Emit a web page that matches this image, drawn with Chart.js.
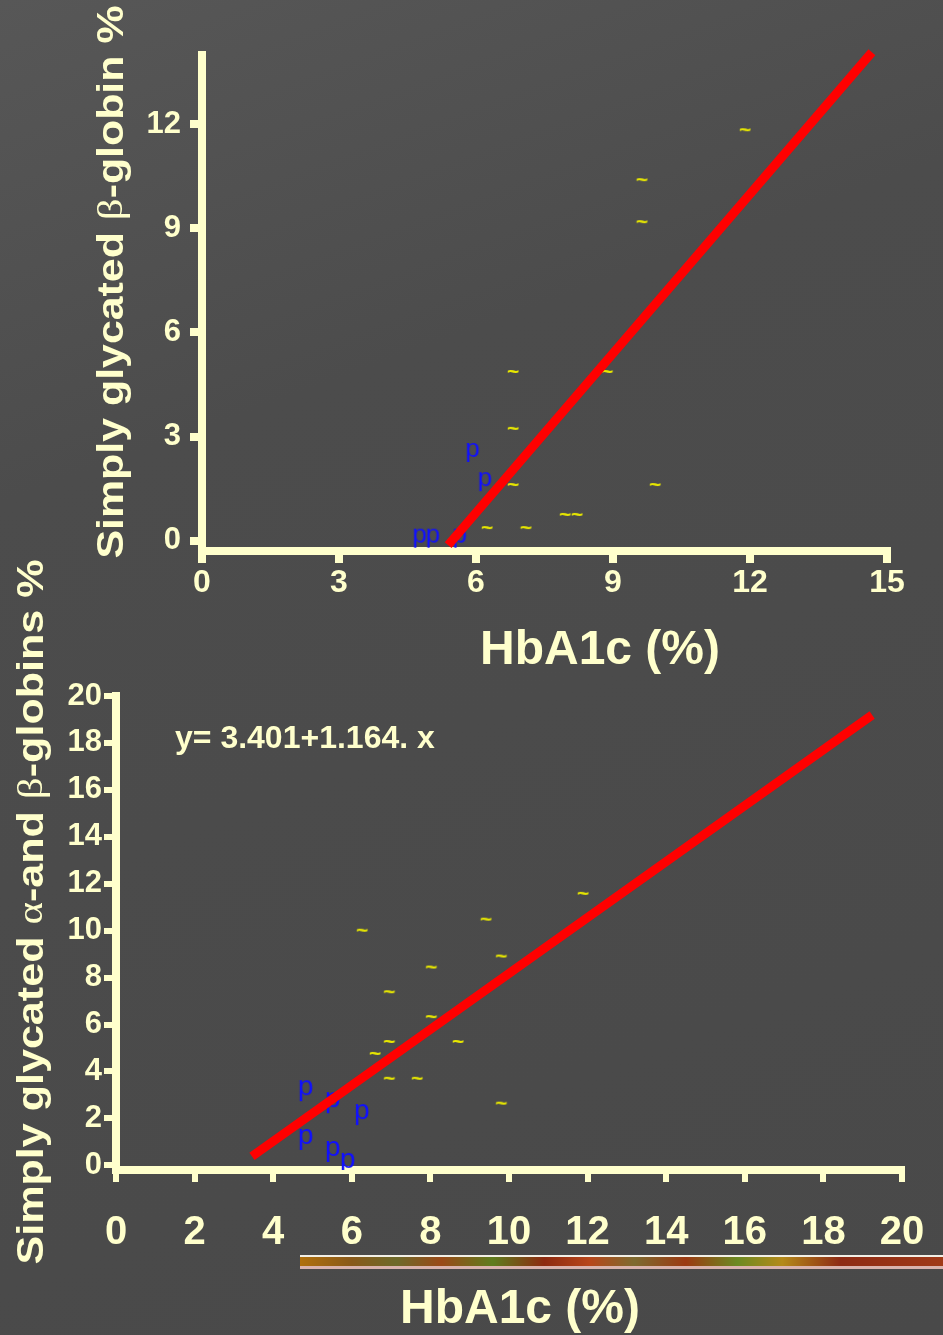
<!DOCTYPE html>
<html>
<head>
<meta charset="utf-8">
<title>HbA1c vs simply glycated globins</title>
<script src="https://cdn.jsdelivr.net/npm/chart.js@4.4.1/dist/chart.umd.min.js"></script>
<style>
  html, body { margin: 0; padding: 0; }
  body {
    width: 943px; height: 1335px; overflow: hidden; position: relative;
    background: linear-gradient(160deg, #575757 0%, #4c4c4c 30%, #494949 100%);
  }
  canvas { position: absolute; left: 0; }
  #beta { top: 0; }
  #both { top: 540px; }
  #strip {
    position: absolute; left: 300px; top: 1255px; width: 643px; height: 9px;
    border-top: 2px solid #f2efe6; border-bottom: 3px solid #d9b3ad;
    background: linear-gradient(90deg, #b0700c 0%, #8a5a1a 8%, #6e6a2a 15%, #9a4a18 22%, #5f7d1e 30%,
      #8d2a10 38%, #b8461a 45%, #7e6b30 52%, #9c3a12 60%, #6c8a22 68%, #b48a1a 75%, #8e2b14 84%, #a03a18 100%);
  }
</style>
</head>
<body>
<canvas id="beta" width="943" height="680"></canvas>
<canvas id="both" width="943" height="795"></canvas>
<div id="strip"></div>
<script>
// top panel: simply glycated beta-globin vs HbA1c
const betaTicksX = [0, 3, 6, 9, 12, 15];
const betaTicksY = [0, 3, 6, 9, 12];
const betaDiabX = [11.89, 9.63, 9.63, 6.81, 6.81, 6.81, 9.92, 8.87, 6.24, 7.09, 7.95, 8.21];
const betaDiabY = [11.86, 10.42, 9.21, 4.89, 3.25, 1.63, 1.63, 4.89, 0.39, 0.39, 0.77, 0.77];
const betaCtrlX = [5.93, 6.20, 4.77, 5.06, 5.65];
const betaCtrlY = [2.54, 1.70, 0.07, 0.07, 0.07];
const betaFitX = [5.39, 14.67];
const betaFitY = [-0.13, 14.08];

// bottom panel: simply glycated alpha- and beta-globins vs HbA1c
const bothTicksX = [0, 2, 4, 6, 8, 10, 12, 14, 16, 18, 20];
const bothTicksY = [0, 2, 4, 6, 8, 10, 12, 14, 16, 18, 20];
const bothDiabX = [9.41, 6.26, 9.80, 8.02, 6.95, 8.02, 6.95, 8.70, 6.59, 6.95, 7.66, 9.80, 11.88];
const bothDiabY = [10.51, 10.04, 8.94, 8.47, 7.42, 6.36, 5.30, 5.30, 4.79, 3.73, 3.73, 2.67, 11.61];
const bothCtrlX = [4.83, 5.52, 6.26, 4.83, 5.52, 5.90];
const bothCtrlY = [3.18, 2.67, 2.16, 1.10, 0.59, 0.08];
const bothFitX = [3.46, 19.24];
const bothFitY = [0.38, 19.19];
const equation = 'y= 3.401+1.164. x';

const cream = '#ffffcc';
const sans = "'Liberation Sans', Arial, sans-serif";
const serif = "'Liberation Serif', 'DejaVu Serif', serif";

function pts(xs, ys) {
  return xs.map((x, i) => ({ x: x, y: ys[i] }));
}

// small canvas with one glyph, used as point style
function glyph(ch, font, color) {
  let c = document.createElement('canvas');
  let g = c.getContext('2d');
  g.font = font;
  let m = g.measureText(ch);
  c.width = Math.ceil(m.actualBoundingBoxLeft + m.actualBoundingBoxRight) + 2;
  c.height = Math.ceil(m.actualBoundingBoxAscent + m.actualBoundingBoxDescent) + 2;
  g.font = font;
  g.fillStyle = color;
  g.fillText(ch, m.actualBoundingBoxLeft + 1, m.actualBoundingBoxAscent + 1);
  return c;
}

// axis titles and equation, drawn in the slide's mixed fonts
function slideText(items) {
  return {
    id: 'slideText',
    afterDraw(chart) {
      let ctx = chart.ctx;
      items.forEach(item => {
        ctx.save();
        ctx.translate(item.x, item.y);
        if (item.rotate) ctx.rotate(item.rotate);
        let total = 0;
        item.parts.forEach(p => { ctx.font = p[1]; total += ctx.measureText(p[0]).width; });
        if (item.length) ctx.scale(item.length / total, 1);
        ctx.fillStyle = cream;
        ctx.textBaseline = 'middle';
        let x = item.left ? 0 : -total / 2;
        item.parts.forEach(p => {
          ctx.font = p[1];
          ctx.fillText(p[0], x, 0);
          x += ctx.measureText(p[0]).width;
        });
        ctx.restore();
      });
    }
  };
}

// fixed-size axis: label overflow must not push the plot area around
function axis(min, max, tickList, size, pad, tickWidth, boxSize) {
  return {
    type: 'linear',
    min: min,
    max: max,
    afterBuildTicks: s => { s.ticks = tickList.map(v => ({ value: v })); },
    afterFit: s => {
      if (s.isHorizontal()) s.height = boxSize; else s.width = boxSize;
      s.paddingLeft = 0; s.paddingRight = 0; s.paddingTop = 0; s.paddingBottom = 0;
    },
    grid: { drawOnChartArea: false, drawTicks: true, tickLength: 12, color: cream, lineWidth: tickWidth },
    border: { color: cream, width: 8 },
    ticks: {
      color: cream, padding: pad, autoSkip: false, maxRotation: 0,
      font: { family: sans, weight: 'bold', size: size }
    }
  };
}

const bold36 = 'bold 36px ' + sans;
const beta36 = '36px ' + serif;

new Chart(document.getElementById('beta'), {
  type: 'scatter',
  data: {
    datasets: [{
      type: 'line',
      data: pts(betaFitX, betaFitY),
      borderColor: '#ff0000',
      borderWidth: 9,
      pointRadius: 0,
      clip: false
    }, {
      data: pts(betaDiabX, betaDiabY),
      pointStyle: glyph('~', 'bold 21px ' + sans, '#e8e800'),
      pointRadius: 6
    }, {
      data: pts(betaCtrlX, betaCtrlY),
      pointStyle: glyph('p', '26px ' + sans, '#1010ff'),
      pointRadius: 6
    }]
  },
  options: {
    responsive: false,
    animation: false,
    layout: { padding: { left: 91, right: 56, top: 55, bottom: 0 } },
    plugins: { legend: { display: false }, tooltip: { enabled: false } },
    scales: {
      x: axis(0, 15, betaTicksX, 32, 1, 8, 129),
      y: axis(-0.3, 14, betaTicksY, 31, 9, 8, 111)
    }
  },
  plugins: [slideText([
    { x: 113, y: 282, rotate: -Math.PI / 2, length: 553,
      parts: [['Simply glycated ', bold36], ['\u03b2', beta36], ['-globin %', bold36]] },
    { x: 600, y: 651, parts: [['HbA1c (%)', 'bold 48px ' + sans]] }
  ])]
});

new Chart(document.getElementById('both'), {
  type: 'scatter',
  data: {
    datasets: [{
      type: 'line',
      data: pts(bothFitX, bothFitY),
      borderColor: '#ff0000',
      borderWidth: 9,
      pointRadius: 0,
      clip: false
    }, {
      data: pts(bothDiabX, bothDiabY),
      pointStyle: glyph('~', 'bold 21px ' + sans, '#e8e800'),
      pointRadius: 6
    }, {
      data: pts(bothCtrlX, bothCtrlY),
      pointStyle: glyph('p', '28px ' + sans, '#1010ff'),
      pointRadius: 6
    }]
  },
  options: {
    responsive: false,
    animation: false,
    layout: { padding: { left: 0, right: 41, top: 156, bottom: 0 } },
    plugins: { legend: { display: false }, tooltip: { enabled: false } },
    scales: {
      x: axis(0, 20, bothTicksX, 40, 27, 6, 165),
      y: axis(-0.2, 20, bothTicksY, 31, 2, 6, 116)
    }
  },
  plugins: [slideText([
    { x: 33, y: 372, rotate: -Math.PI / 2, length: 705,
      parts: [['Simply glycated ', bold36], ['\u03b1', beta36], ['-and ', bold36],
              ['\u03b2', beta36], ['-globins %', bold36]] },
    { x: 520, y: 770, parts: [['HbA1c (%)', 'bold 48px ' + sans]] },
    { x: 175, y: 199, left: true, parts: [[equation, 'bold 32px ' + sans]] }
  ])]
});
</script>
</body>
</html>
